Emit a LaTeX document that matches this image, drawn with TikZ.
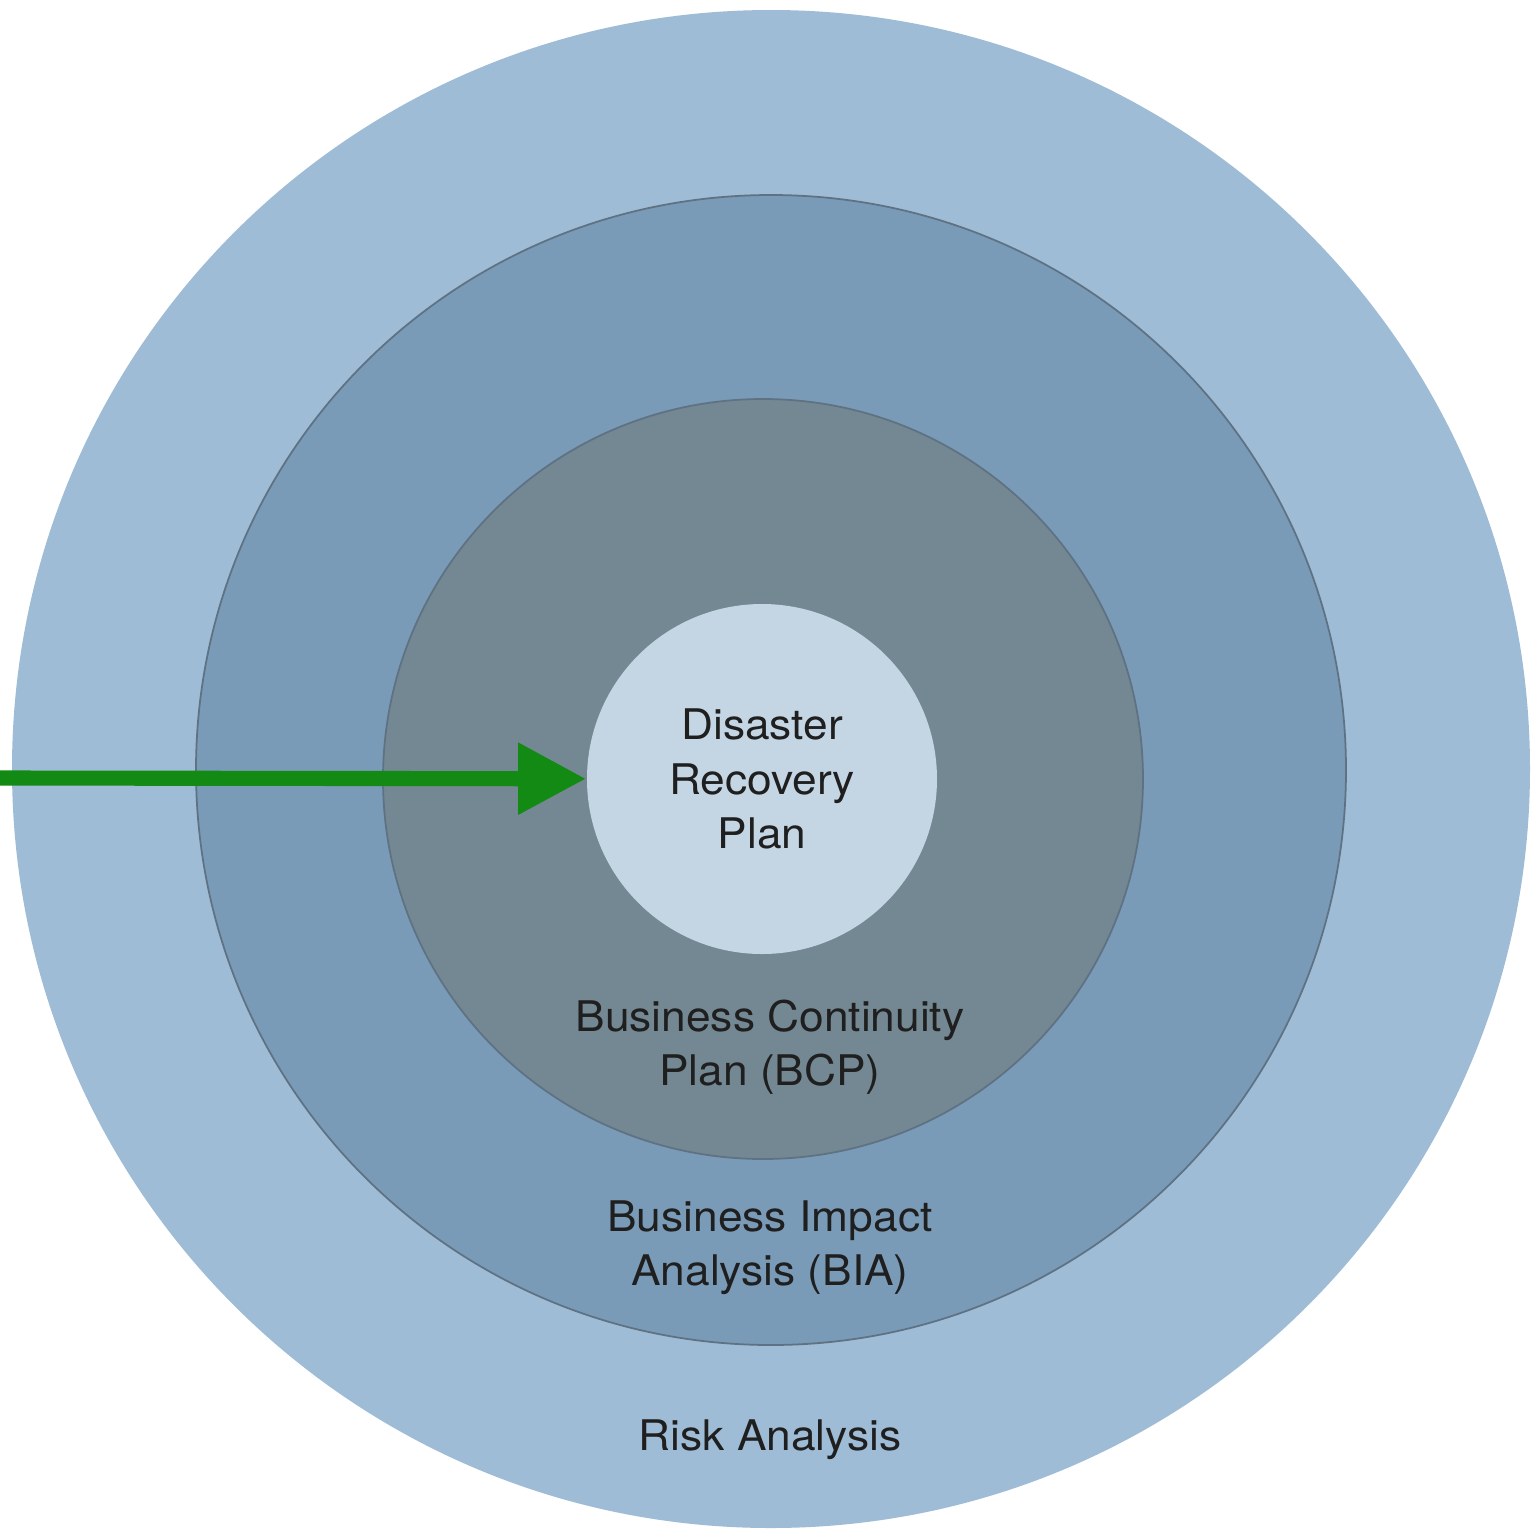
\documentclass[tikz,border=0pt]{standalone}
\usepackage{fontspec}
\setmainfont{TeX Gyre Heros}[FakeStretch=1.05]
\usepackage{xcolor}
\usetikzlibrary{arrows.meta,positioning}
\definecolor{riskblue}{HTML}{9EBCD6}
\definecolor{biablue}{HTML}{7A9BB8}
\definecolor{bcpgrey}{HTML}{738892}
\definecolor{drpblue}{HTML}{C4D6E4}
\definecolor{ringline}{HTML}{5E7283}
\definecolor{arrowgreen}{HTML}{138A13}

\begin{document}
\begin{tikzpicture}[
  font=\fontsize{12}{15.4}\selectfont,
  >={Triangle[length=6.8mm, width=6.8mm]},
  ring/.style={circle, inner sep=0pt, draw=ringline, line width=0.5pt},
  lbl/.style={align=center, text=black!88}]
\useasboundingbox[fill=white] (0,0) rectangle (15.32,-15.29);
\node[ring, draw=none, fill=riskblue, minimum size=15.18cm] (risk) at (7.71,-7.69) {};
\node[ring, fill=biablue, minimum size=11.5cm] (bia) at (7.71,-7.70) {};
\node[ring, fill=bcpgrey, minimum size=7.6cm] (bcp) at (7.63,-7.79) {};
\node[ring, lbl, draw=none, fill=drpblue, minimum size=3.5cm] (drp) at (7.62,-7.79) {Disaster\\Recovery\\Plan};
\coordinate (entry) at (0,-7.78);
\draw[->, color=arrowgreen, line width=4.3pt] (entry) -- (drp);
\node[lbl] (bcplbl) at (7.70,-10.47) {Business Continuity\\Plan (BCP)};
\node[lbl] (bialbl) at (7.70,-12.48) {Business Impact\\Analysis (BIA)};
\node[lbl] (risklbl) at (7.70,-14.40) {Risk Analysis};
\end{tikzpicture}
\end{document}
